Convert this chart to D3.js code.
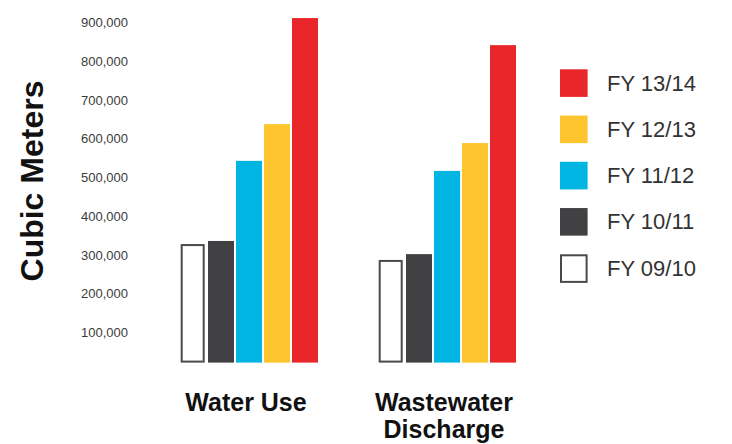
<!DOCTYPE html>
<html>
<head>
<meta charset="utf-8">
<script src="https://cdn.jsdelivr.net/npm/d3@7"></script>
<style>
  html, body { margin: 0; padding: 0; background: #fff; }
  svg { display: block; }
</style>
</head>
<body>
<svg id="chart" width="732" height="444"></svg>
<script>
// Categories (each label split into display lines)
const categories = ["Water Use", "Wastewater Discharge"];
const categoryLines = [["Water Use"], ["Wastewater", "Discharge"]];

// Fiscal-year series, oldest first (drawn left to right within each group)
const seriesNames = ["FY 09/10", "FY 10/11", "FY 11/12", "FY 12/13", "FY 13/14"];
const seriesColors = ["#ffffff", "#414042", "#00b5e2", "#fec52e", "#e9262a"];

// Cubic meters per category, one array per fiscal year
const fy0910 = [328000, 287000];
const fy1011 = [336000, 302000];
const fy1112 = [543000, 517000];
const fy1213 = [638000, 589000];
const fy1314 = [912000, 842000];
const seriesValues = [fy0910, fy1011, fy1112, fy1213, fy1314];

// Y-axis tick values
const tickValues = [100000, 200000, 300000, 400000, 500000, 600000, 700000, 800000, 900000];

const svg = d3.select("#chart");
const sans = "'Liberation Sans', Arial, Helvetica, sans-serif";

const floorY = 362.6;
const y = d3.scaleLinear().domain([100000, 900000]).range([332.3, 22.7]);

const x0 = d3.scaleBand().domain(categories).range([180, 516]).paddingInner(60 / 198).paddingOuter(0);
const x1 = d3.scaleBand().domain(seriesNames).range([0, x0.bandwidth()]).paddingInner(2 / 28).paddingOuter(0);

// Y tick labels (no axis line or tick marks)
const yAxis = d3.axisLeft(y).tickValues(tickValues).tickFormat(d3.format(",")).tickSize(0).tickPadding(0);
const axisG = svg.append("g")
  .attr("transform", "translate(128,0)")
  .call(yAxis)
  .attr("font-family", sans)
  .attr("font-size", 13);
axisG.select(".domain").remove();
axisG.selectAll("text").attr("fill", "#3b3b3b");

// Y title
svg.append("text")
  .attr("transform", "translate(43,181) rotate(-90)")
  .attr("text-anchor", "middle")
  .attr("font-family", sans)
  .attr("font-weight", "bold")
  .attr("font-size", 32)
  .attr("fill", "#111")
  .text("Cubic Meters");

// Bars
const groups = svg.append("g").selectAll("g")
  .data(categories)
  .join("g")
  .attr("transform", d => `translate(${x0(d)},0)`);

groups.selectAll("rect")
  .data((c, ci) => seriesNames.map((s, si) => ({ s, si, v: seriesValues[si][ci] })))
  .join("rect")
  .each(function (d) {
    const r = d3.select(this);
    const top = y(d.v);
    if (d.si === 0) {
      r.attr("x", x1(d.s) + 1.7).attr("width", x1.bandwidth() - 4)
        .attr("y", top + 1).attr("height", floorY - 1 - (top + 1))
        .attr("fill", "#fff").attr("stroke", "#4a4a4a").attr("stroke-width", 2);
    } else {
      r.attr("x", x1(d.s)).attr("width", x1.bandwidth())
        .attr("y", top).attr("height", floorY - top)
        .attr("fill", seriesColors[d.si]);
    }
  });

// Category labels
svg.append("g").selectAll("text")
  .data(categories)
  .join("text")
  .attr("font-family", sans)
  .attr("font-weight", "bold")
  .attr("font-size", 25)
  .attr("fill", "#111")
  .attr("text-anchor", "middle")
  .each(function (c, i) {
    const t = d3.select(this);
    categoryLines[i].forEach((line, li) => {
      t.append("tspan")
        .attr("x", x0(c) + x0.bandwidth() / 2 - 3)
        .attr("y", 410.5 + li * 27)
        .text(line);
    });
  });

// Legend, newest year on top
const legendOrder = seriesNames.map((s, i) => i).reverse();
const legend = svg.append("g").selectAll("g")
  .data(legendOrder)
  .join("g")
  .attr("transform", (d, k) => `translate(560,${83 + k * 46.25})`);

legend.append("rect")
  .each(function (si) {
    const r = d3.select(this);
    if (si === 0) {
      r.attr("x", 1).attr("y", -12.7).attr("width", 25.6).attr("height", 26.6)
        .attr("fill", "#fff").attr("stroke", "#4a4a4a").attr("stroke-width", 2);
    } else {
      r.attr("x", 0).attr("y", -13.7).attr("width", 27.6).attr("height", 27.6)
        .attr("fill", seriesColors[si]);
    }
  });

legend.append("text")
  .attr("x", 47)
  .attr("y", 0)
  .attr("dy", "0.35em")
  .attr("font-family", sans)
  .attr("font-size", 22)
  .attr("fill", "#333")
  .text(si => seriesNames[si]);
</script>
</body>
</html>
